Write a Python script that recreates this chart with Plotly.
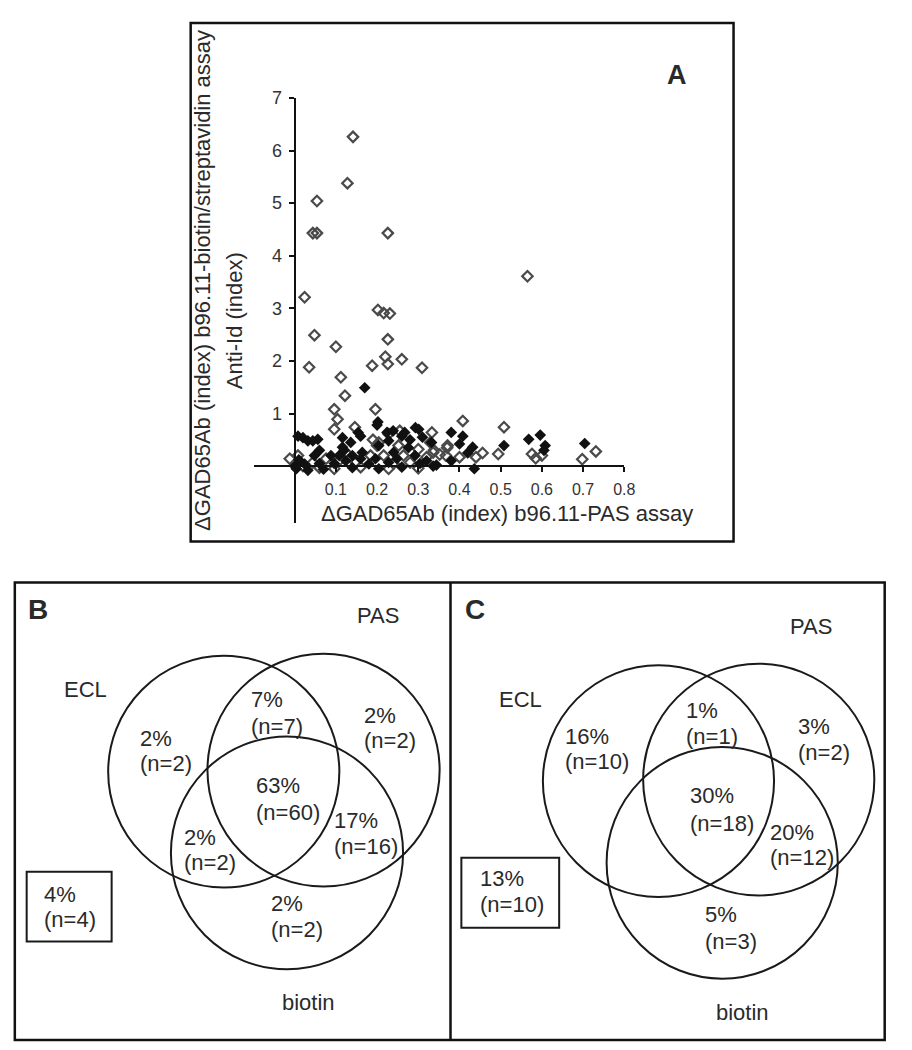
import plotly.graph_objects as go

W, H = 912, 1050

# ---------------- Panel A data ----------------
open_x = [0.1415, 0.128, 0.054, 0.044, 0.054, 0.226, 0.565, 0.024, 0.048, 0.035,
          0.100, 0.112, 0.122, 0.202, 0.216, 0.231, 0.226, 0.220, 0.226, 0.260,
          0.188, 0.309, 0.196, 0.096, 0.104, 0.096, 0.146, 0.408, 0.508, 0.228,
          0.255, 0.333, 0.329, 0.338, 0.371, 0.367, 0.400, 0.440, 0.456, 0.494,
          0.576, 0.600, 0.731, 0.698, 0.204, 0.252, 0.190, -0.012, 0.008, 0.044,
          0.076, 0.096, 0.124, 0.148, 0.184, 0.200, 0.228, 0.216, 0.264, 0.280,
          0.300, 0.320, 0.352, 0.060, 0.160, 0.300, 0.336, 0.370, 0.020, 0.110,
          0.240, 0.585]
open_y = [6.26, 5.38, 5.04, 4.43, 4.43, 4.43, 3.61, 3.21, 2.49, 1.88,
          2.27, 1.69, 1.34, 2.97, 2.91, 2.90, 2.41, 2.08, 1.94, 2.03,
          1.91, 1.87, 1.08, 1.08, 0.89, 0.70, 0.74, 0.86, 0.74, 0.61,
          0.67, 0.64, 0.45, 0.30, 0.39, 0.20, 0.17, 0.17, 0.25, 0.23,
          0.23, 0.20, 0.28, 0.13, 0.45, 0.39, 0.50, 0.14, 0.20, 0.07,
          0.14, -0.05, 0.26, 0.07, 0.20, 0.39, -0.05, 0.20, 0.20, 0.07,
          0.32, 0.17, 0.22, -0.03, -0.02, -0.04, 0.26, 0.35, 0.00, 0.12,
          0.05, 0.15]

filled_x = [0.170, 0.202, 0.200, 0.160, 0.116, 0.154, 0.008, 0.020, 0.032, 0.044,
            0.056, 0.224, 0.239, 0.267, 0.293, 0.301, 0.380, 0.408, 0.400, 0.432,
            0.344, 0.436, 0.332, 0.508, 0.568, 0.596, 0.608, 0.704, 0.136, 0.116,
            0.204, 0.228, 0.260, 0.000, 0.004, 0.024, 0.048, 0.032, 0.060, 0.088,
            0.096, 0.108, 0.124, 0.140, 0.160, 0.164, 0.204, 0.196, 0.228, 0.240,
            0.248, 0.276, 0.292, 0.304, 0.336, 0.010, 0.070, 0.140, 0.180, 0.260,
            0.320, 0.280, 0.310, 0.120, 0.060, 0.380, 0.420, 0.605]
filled_y = [1.49, 0.84, 0.78, 0.57, 0.54, 0.64, 0.57, 0.54, 0.48, 0.48,
            0.51, 0.64, 0.67, 0.64, 0.73, 0.70, 0.64, 0.57, 0.42, 0.36,
            0.02, -0.05, 0.45, 0.39, 0.51, 0.59, 0.39, 0.43, 0.45, 0.36,
            0.39, 0.48, 0.57, 0.00, -0.05, 0.04, 0.20, -0.08, 0.05, 0.20,
            0.05, 0.20, 0.10, 0.20, 0.14, 0.26, -0.05, 0.14, 0.07, 0.26,
            0.14, 0.35, 0.20, 0.05, 0.00, 0.12, -0.06, -0.03, 0.04, -0.02,
            0.10, 0.50, 0.55, 0.30, 0.30, 0.10, 0.25, 0.30]

x_ticks = [0.1, 0.2, 0.3, 0.4, 0.5, 0.6, 0.7, 0.8]
x_tick_text = ["0.1", "0.2", "0.3", "0.4", "0.5", "0.6", "0.7", "0.8"]
y_ticks = [1, 2, 3, 4, 5, 6, 7]
y_tick_text = ["1", "2", "3", "4", "5", "6", "7"]

x_title = "ΔGAD65Ab (index) b96.11-PAS assay"
y_title_1 = "ΔGAD65Ab (index) b96.11-biotin/streptavidin assay"
y_title_2 = "Anti-Id (index)"

# ---------------- Venn data ----------------
set_names = ["ECL", "PAS", "biotin"]
b_pct = [2, 7, 2, 63, 17, 2, 2, 4]
b_n = [2, 7, 2, 60, 16, 2, 2, 4]
c_pct = [16, 1, 3, 30, 20, 5, 13]
c_n = [10, 1, 2, 18, 12, 3, 10]

# label positions in pixels (left x, line1 y, line2 y)
b_pos = [(140, 735, 761), (252, 696, 723), (366, 712, 738), (257, 783, 810),
         (336, 818, 845), (184, 835, 861), (272, 902, 928), (43, 893, 918)]
c_pos = [(570, 733, 759), (692, 707, 733), (806, 723, 750), (696, 793, 821),
         (777, 830, 856), (712, 913, 940), (484, 877, 903)]

# circles (cx, cy, r) in pixels
b_circles = [(226.5, 769, 117), (327.5, 767.5, 117.5), (290.5, 851, 117.5)]
c_circles = [(666.5, 778.5, 117), (768, 777, 117), (731, 861, 117)]

FONT = "Arial, Liberation Sans, Helvetica, sans-serif"
TXT = "#2a2a2a"


def X(p):
    return p / W


def Y(p):
    return 1 - p / H


fig = go.Figure()
fig.add_trace(go.Scatter(
    x=open_x, y=open_y, mode="markers", name="open",
    marker=dict(symbol="diamond-open", size=8, color="#4a4a4a", line=dict(width=2.2, color="#4a4a4a")),
    showlegend=False))
fig.add_trace(go.Scatter(
    x=filled_x, y=filled_y, mode="markers", name="filled",
    marker=dict(symbol="diamond", size=9, color="#111111"),
    showlegend=False))

# axes geometry (pixels)
x0_px, x_unit = 298.3, 417.0
y0_px, y_unit = 460.5, 53.1
xr = [-0.1, 0.8]
yr = [-1.09, 7]

fig.update_layout(
    width=W, height=H, margin=dict(l=0, r=0, t=0, b=0),
    paper_bgcolor="white", plot_bgcolor="rgba(0,0,0,0)",
    font=dict(family=FONT, color=TXT),
    xaxis=dict(domain=[X(x0_px + xr[0] * x_unit), X(x0_px + xr[1] * x_unit)], range=xr,
               anchor="free", position=Y(y0_px), showline=True, linecolor="#111", linewidth=2,
               ticks="outside", ticklen=5, tickwidth=1.5, tickcolor="#111",
               tickvals=x_ticks, ticktext=x_tick_text, showgrid=False, zeroline=False,
               tickfont=dict(size=16, color="#333"), ticklabelstandoff=4, fixedrange=True),
    yaxis=dict(domain=[Y(y0_px - yr[0] * y_unit), Y(y0_px - yr[1] * y_unit)], range=yr,
               anchor="free", position=X(x0_px), showline=True, linecolor="#111", linewidth=2,
               ticks="outside", ticklen=5, tickwidth=1.5, tickcolor="#111",
               tickvals=y_ticks, ticktext=y_tick_text, showgrid=False, zeroline=False,
               tickfont=dict(size=18, color="#333"), ticklabelstandoff=3, fixedrange=True),
)

shapes = []
annotations = []

# panel frames
shapes.append(dict(type="rect", xref="paper", yref="paper", x0=X(193), x1=X(742.5), y0=Y(536.5), y1=Y(13),
                   line=dict(color="#111", width=2.5)))
shapes.append(dict(type="rect", xref="paper", yref="paper", x0=X(15), x1=X(895.5), y0=Y(1040), y1=Y(578),
                   line=dict(color="#111", width=2.5)))
shapes.append(dict(type="line", xref="paper", yref="paper", x0=X(456), x1=X(456), y0=Y(1040), y1=Y(578),
                   line=dict(color="#111", width=2.5)))


def ann(text, x, y, size=22, xanchor="center", bold=False, angle=0):
    annotations.append(dict(
        text=("<b>%s</b>" % text) if bold else text, x=X(x), y=Y(y), xref="paper", yref="paper",
        showarrow=False, xanchor=xanchor, yanchor="middle", textangle=angle,
        font=dict(size=size, color=TXT, family=FONT)))


# Panel A texts
ann(x_title, 513, 508, size=22)
ann(y_title_1, 205, 273, size=22, angle=-90)
ann(y_title_2, 237, 314, size=22, angle=-90)
ann("A", 685, 66, size=27, bold=True)


# Venn panels
def venn(circles, pcts, ns, pos, letter_xy, box, name_pos):
    for (cx, cy, r) in circles:
        shapes.append(dict(type="circle", xref="paper", yref="paper",
                           x0=X(cx - r), x1=X(cx + r), y0=Y(cy + r), y1=Y(cy - r),
                           line=dict(color="#1a1a1a", width=2)))
    bx0, by0, bx1, by1 = box
    shapes.append(dict(type="rect", xref="paper", yref="paper", x0=X(bx0), x1=X(bx1), y0=Y(by1), y1=Y(by0),
                       line=dict(color="#1a1a1a", width=2)))
    for p, n, (lx, l1, l2) in zip(pcts, ns, pos):
        ann("%d%%" % p, lx, l1, xanchor="left")
        ann("(n=%d)" % n, lx, l2, xanchor="left")
    ann(letter_xy[0], letter_xy[1], letter_xy[2], size=28, bold=True)
    for nm, (nx, ny) in zip(set_names, name_pos):
        ann(nm, nx, ny)


venn(b_circles, b_pct, b_n, b_pos, ("B", 38, 605), (27, 870, 113, 940.5),
     [(87, 686), (383, 611), (312, 1002)])
venn(c_circles, c_pct, c_n, c_pos, ("C", 481, 605), (467, 856, 566, 926.5),
     [(527, 696), (821, 622), (751.5, 1012)])

fig.update_layout(shapes=shapes, annotations=annotations)

fig.write_html("out.html", config={"displayModeBar": False},
               post_script="document.body.style.margin='0';document.body.style.overflow='hidden';")
